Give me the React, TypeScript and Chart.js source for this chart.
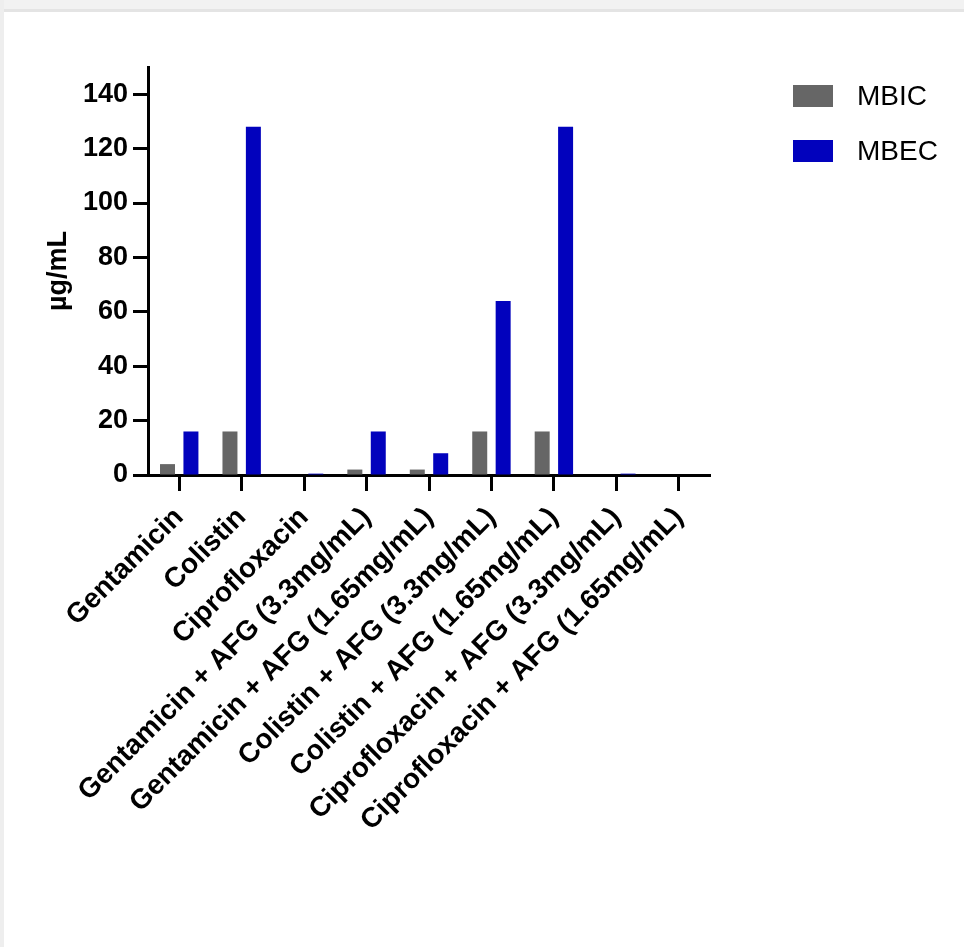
import React, { useEffect, useRef } from 'react';
import { Chart, registerables } from 'chart.js';

Chart.register(...registerables);

const FONT = '"Liberation Sans", Arial, Helvetica, sans-serif';

const categories = [
  'Gentamicin',
  'Colistin',
  'Ciprofloxacin',
  'Gentamicin + AFG (3.3mg/mL)',
  'Gentamicin + AFG (1.65mg/mL)',
  'Colistin + AFG (3.3mg/mL)',
  'Colistin + AFG (1.65mg/mL)',
  'Ciprofloxacin + AFG (3.3mg/mL)',
  'Ciprofloxacin + AFG (1.65mg/mL)',
];
const mbicValues = [4, 16, 0, 2, 2, 16, 16, 0, 0];
const mbecValues = [16, 128, 0.5, 16, 8, 64, 128, 0.5, 0];
const seriesLabels = ['MBIC', 'MBEC'];
const seriesColors = ['#666666', '#0202bd'];
const yAxisTitle = 'µg/mL';
const yMin = 0;
const yMax = 150;
const yTickValues = [0, 20, 40, 60, 80, 100, 120, 140];

const sideLegend = {
  id: 'sideLegend',
  afterDraw(chart: any) {
    const { ctx, chartArea } = chart;
    const x0 = chartArea.right + 83;
    chart.data.datasets.forEach((ds: any, i: number) => {
      const y = 85 + i * 55;
      ctx.save();
      ctx.fillStyle = ds.backgroundColor;
      ctx.fillRect(x0, y, 40, 22);
      ctx.fillStyle = '#000';
      ctx.font = `28px ${FONT}`;
      ctx.textBaseline = 'middle';
      ctx.textAlign = 'left';
      ctx.fillText(ds.label, x0 + 64, y + 12);
      ctx.restore();
    });
  },
};

export default function App() {
  const ref = useRef<HTMLCanvasElement | null>(null);

  useEffect(() => {
    if (!ref.current) return;
    const chart = new Chart(ref.current, {
      type: 'bar',
      data: {
        labels: categories,
        datasets: [
          {
            label: seriesLabels[0],
            data: mbicValues,
            backgroundColor: seriesColors[0],
            borderWidth: 0,
            barPercentage: 0.64,
            categoryPercentage: 0.75,
          },
          {
            label: seriesLabels[1],
            data: mbecValues,
            backgroundColor: seriesColors[1],
            borderWidth: 0,
            barPercentage: 0.64,
            categoryPercentage: 0.75,
          },
        ],
      },
      options: {
        responsive: false,
        animation: false,
        devicePixelRatio: 1,
        layout: { padding: { top: 67, right: 254, bottom: 0, left: 0 } },
        plugins: {
          legend: { display: false },
          tooltip: { enabled: false },
        },
        scales: {
          x: {
            offset: true,
            z: 1,
            ticks: {
              autoSkip: false,
              minRotation: 45,
              maxRotation: 45,
              color: '#000',
              font: { family: FONT, size: 28, weight: 'bold' },
              padding: 10,
            },
            grid: {
              offset: false,
              drawOnChartArea: false,
              drawTicks: true,
              tickLength: 16,
              tickWidth: 3,
              tickColor: '#000',
            },
            border: { display: true, width: 3, color: '#000' },
            afterFit: (s: any) => {
              s.height = 472;
            },
          },
          y: {
            min: yMin,
            max: yMax,
            z: 1,
            afterBuildTicks: (s: any) => {
              s.ticks = yTickValues.map((v) => ({ value: v }));
            },
            ticks: {
              color: '#000',
              font: { family: FONT, size: 27, weight: 'bold' },
              padding: 5,
            },
            grid: {
              drawOnChartArea: false,
              drawTicks: true,
              tickLength: 15,
              tickWidth: 3,
              tickColor: '#000',
            },
            border: { display: true, width: 3, color: '#000' },
            title: {
              display: true,
              text: yAxisTitle,
              color: '#000',
              font: { family: FONT, size: 27, weight: 'bold', lineHeight: 1.2 },
              padding: { top: 42, bottom: 0 },
            },
            afterFit: (s: any) => {
              s.width = 148;
            },
          },
        },
      },
      plugins: [sideLegend],
    });
    return () => chart.destroy();
  }, []);

  return (
    <div
      style={{
        position: 'fixed',
        left: 0,
        top: 0,
        width: 964,
        height: 947,
        background: '#ffffff',
        overflow: 'hidden',
      }}
    >
      <div style={{ position: 'absolute', left: 0, top: 0, width: 964, height: 9, background: '#f2f2f2' }} />
      <div style={{ position: 'absolute', left: 0, top: 9, width: 964, height: 3, background: '#e4e4e4' }} />
      <div style={{ position: 'absolute', left: 0, top: 0, width: 4, height: 947, background: '#eeeeee' }} />
      <canvas
        ref={ref}
        width={964}
        height={947}
        style={{ position: 'absolute', left: 0, top: 0, width: 964, height: 947, display: 'block' }}
      />
    </div>
  );
}
